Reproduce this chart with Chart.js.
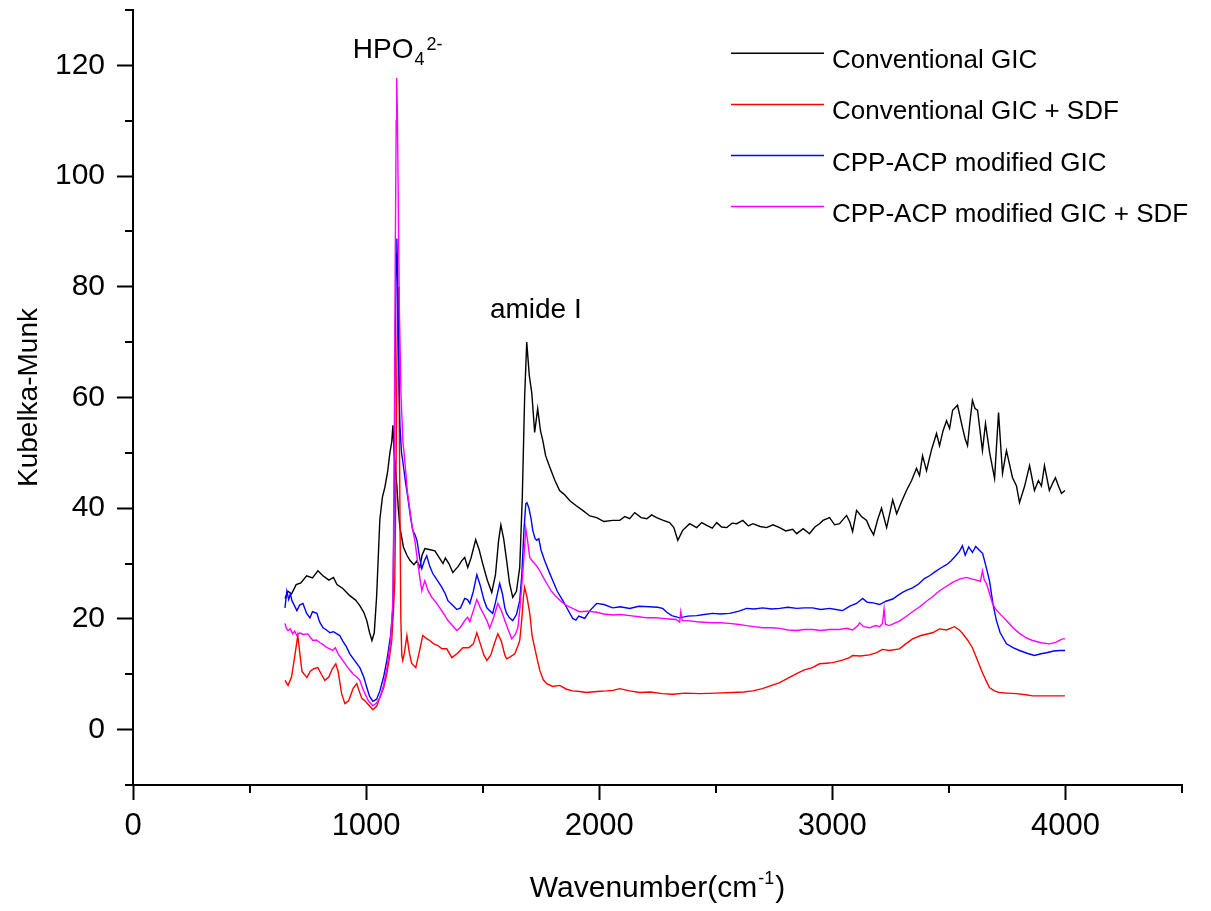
<!DOCTYPE html>
<html>
<head>
<meta charset="utf-8">
<script src="https://cdn.jsdelivr.net/npm/chart.js@4.4.1/dist/chart.umd.min.js"></script>
<style>
  html, body { margin: 0; padding: 0; background: #fff; }
  #wrap { width: 1211px; height: 911px; }
</style>
</head>
<body>
<div id="wrap"><canvas id="c" width="1211" height="911"></canvas></div>
<script>
// ---- data (wavenumber cm-1, Kubelka-Munk) ----
const seriesLabels = ['Conventional GIC', 'Conventional GIC + SDF', 'CPP-ACP modified GIC', 'CPP-ACP modified GIC + SDF'];
const seriesColors = ['#000000', '#ff0000', '#0000ff', '#ff00ff'];

const conventionalGIC = [[652,23.7],[665,25.0],[680,24.5],[700,26.2],[720,26.5],[745,27.8],[770,27.4],[793,28.7],[815,27.8],[840,27.0],[860,27.5],[875,26.2],[900,25.5],[930,24.2],[955,23.4],[973,22.4],[990,21.2],[1003,19.7],[1015,17.5],[1025,16.1],[1035,17.5],[1045,24],[1059,38],[1070,42],[1080,43.7],[1092,46.5],[1102,50],[1110,52],[1115,55],[1120,50],[1126,47],[1132,44],[1138,40],[1145,36.5],[1160,33],[1175,31.5],[1188,30.6],[1205,29.8],[1218,30.5],[1230,29.3],[1240,31.5],[1252,32.7],[1275,32.5],[1295,32.3],[1315,31],[1330,30],[1340,31],[1355,30],[1372,28.4],[1395,29.5],[1410,30.5],[1423,31.1],[1436,29.3],[1450,31],[1470,34.3],[1485,32.5],[1500,30],[1520,27],[1539,24.8],[1555,28],[1568,34],[1578,37],[1590,34.5],[1603,30.5],[1615,26.5],[1629,23.9],[1645,25],[1659,29.3],[1670,42],[1680,60],[1689,70],[1700,64],[1711,60.7],[1723,53.7],[1736,58],[1748,54],[1758,52.2],[1770,49.5],[1788,47.4],[1810,45],[1830,43.2],[1850,42.5],[1873,41.4],[1900,40.5],[1929,39.6],[1960,38.6],[1989,38.3],[2020,37.6],[2058,37.8],[2088,37.8],[2110,38.5],[2131,38.1],[2152,39.2],[2180,38.3],[2204,38.1],[2225,38.8],[2246,38.3],[2275,37.8],[2302,37.4],[2320,36.5],[2337,34.2],[2358,36],[2388,37.2],[2418,36.5],[2440,37.4],[2461,36.9],[2485,36.4],[2504,37.4],[2525,36.6],[2547,36.5],[2570,37.3],[2590,37.2],[2616,37.8],[2640,36.8],[2659,37.2],[2690,36.7],[2718,36.5],[2745,37.0],[2774,36.5],[2800,35.9],[2830,36.2],[2847,35.4],[2875,36.3],[2902,35.4],[2925,36.6],[2945,37.2],[2960,37.8],[2988,38.3],[3010,37.0],[3031,37.2],[3061,38.7],[3075,37.5],[3087,35.8],[3104,39.6],[3125,38.5],[3147,37.8],[3160,36.5],[3177,35.2],[3195,38.0],[3211,40.0],[3233,36.5],[3259,41.5],[3276,39.0],[3295,41.0],[3318,43.2],[3340,45.0],[3361,47.2],[3374,45.9],[3387,49.5],[3404,46.8],[3425,50.5],[3447,53.5],[3460,51.3],[3475,54.0],[3490,55.8],[3503,54.4],[3516,57.7],[3537,58.6],[3558,54.6],[3570,52.5],[3580,51.3],[3590,55.5],[3601,59.5],[3612,58.0],[3623,57.7],[3644,50.4],[3657,55.3],[3675,50.0],[3696,45.4],[3713,57.3],[3730,46.3],[3747,50.4],[3773,45.5],[3790,44.0],[3803,41.0],[3825,44.0],[3846,47.7],[3867,43.2],[3884,45.0],[3897,44.0],[3910,47.7],[3931,43.2],[3945,44.5],[3957,45.5],[3970,44.0],[3983,42.7],[3998,43.2]];

const conventionalGICSDF = [[652,8.9],[665,8.0],[680,9.5],[693,13],[707,17],[715,14],[725,10.5],[746,9.4],[760,10.5],[775,11.0],[793,11.2],[808,10],[823,8.9],[840,9.5],[855,11],[870,11.9],[880,10.5],[895,6.5],[909,4.7],[925,5.2],[945,7.5],[960,8.3],[970,7],[982,5.6],[995,5.2],[1010,4.5],[1029,3.6],[1045,4.2],[1059,5.8],[1075,7.5],[1089,10.1],[1100,13],[1110,16.1],[1118,22],[1123,27],[1128,45],[1133,70],[1137,80],[1141,65],[1145,40],[1149,20],[1153,13.5],[1157,12.5],[1165,14],[1175,17],[1185,14],[1195,12],[1213,11.2],[1228,14],[1243,17],[1258,16.5],[1273,16.1],[1290,15.5],[1308,15.2],[1325,14.6],[1346,14.6],[1368,13],[1390,13.7],[1415,14.8],[1440,14.8],[1460,15.5],[1475,17.5],[1490,15.5],[1505,13.5],[1518,12.5],[1535,13.5],[1550,15.5],[1565,17.3],[1580,16],[1595,13.5],[1603,12.8],[1620,13.2],[1638,13.7],[1650,15],[1659,16.1],[1668,20],[1675,24],[1680,25.7],[1690,24],[1702,21],[1712,17],[1723,14.8],[1735,12.5],[1745,10.7],[1760,9],[1775,8.3],[1800,7.8],[1830,8.0],[1860,7.3],[1886,7.0],[1916,6.9],[1946,6.7],[1990,6.9],[2032,7.0],[2060,7.1],[2088,7.4],[2130,7.0],[2174,6.7],[2220,6.8],[2270,6.5],[2315,6.4],[2370,6.6],[2431,6.5],[2500,6.6],[2572,6.7],[2620,6.8],[2659,7.0],[2700,7.4],[2740,8.0],[2774,8.5],[2810,9.3],[2847,10.1],[2880,10.8],[2915,11.2],[2945,11.9],[2975,12.0],[3001,12.1],[3040,12.5],[3074,13.0],[3087,13.4],[3120,13.3],[3160,13.5],[3190,13.9],[3215,14.5],[3245,14.3],[3288,14.6],[3315,15.5],[3344,16.4],[3380,17.0],[3430,17.5],[3460,18.2],[3490,18.0],[3524,18.6],[3545,18.0],[3558,17.4],[3580,16.2],[3601,14.8],[3620,12.8],[3640,10.7],[3660,8.8],[3674,7.6],[3695,7.0],[3717,6.7],[3750,6.6],[3790,6.5],[3830,6.3],[3859,6.1],[3900,6.1],[3950,6.1],[3998,6.1]];

const cppAcpGIC = [[652,22],[660,25],[668,23.5],[675,24.5],[682,23.3],[703,21.5],[715,22.5],[729,22.8],[745,21],[759,20.2],[770,21.3],[789,21],[800,19.5],[815,18.4],[830,18],[845,17.5],[860,17.7],[875,17.3],[887,17],[900,16],[915,15],[930,13.7],[950,12.5],[973,11.2],[990,9.5],[1003,7.6],[1015,6],[1029,5.1],[1045,5.5],[1059,7],[1075,9.5],[1089,12.5],[1105,17],[1115,22],[1120,40],[1125,70],[1130,86],[1132,88.7],[1136,80],[1140,65],[1145,55],[1152,50],[1158,48.3],[1168,45],[1179,41.9],[1190,38.5],[1200,36],[1210,35.2],[1218,34.2],[1230,31],[1239,29.1],[1250,30.5],[1260,31.4],[1273,29.5],[1286,28.2],[1305,27],[1325,25.7],[1340,24.5],[1351,23.3],[1370,22.5],[1389,21.7],[1405,22],[1423,23.7],[1435,23.5],[1445,22.8],[1460,25],[1475,28],[1490,26],[1505,23.5],[1518,22],[1530,21.5],[1543,21],[1555,23],[1573,26.4],[1585,24.5],[1595,22],[1603,21],[1615,20.2],[1629,19.7],[1645,20.8],[1659,23.3],[1668,28],[1677,36],[1685,40.8],[1690,41],[1698,40.1],[1708,38],[1715,36],[1725,34.5],[1732,34.2],[1741,34.5],[1750,32.5],[1766,30.5],[1785,28.5],[1801,26.9],[1820,25],[1844,23.3],[1865,21.7],[1886,20.1],[1900,19.8],[1912,20.5],[1925,20.3],[1938,20.1],[1960,21.5],[1989,22.8],[2020,22.6],[2058,22.0],[2090,22.2],[2131,21.9],[2170,22.3],[2216,22.2],[2250,22.1],[2272,21.9],[2290,21.2],[2311,20.6],[2345,20.2],[2380,20.5],[2418,20.6],[2450,20.8],[2487,21.0],[2520,20.9],[2559,21.0],[2600,21.4],[2632,21.9],[2665,21.8],[2701,22.0],[2740,21.8],[2774,21.9],[2810,22.1],[2847,21.9],[2880,22.0],[2915,22.0],[2950,21.7],[2988,21.9],[3015,21.7],[3044,21.5],[3075,22.3],[3104,22.8],[3130,23.7],[3150,23.0],[3175,22.9],[3203,22.6],[3230,23.2],[3259,23.6],[3280,24.2],[3301,24.8],[3320,25.2],[3344,25.6],[3370,26.3],[3395,27.3],[3417,27.8],[3440,28.5],[3465,29.2],[3490,29.8],[3510,30.5],[3533,31.6],[3545,32.2],[3558,33.2],[3570,31.5],[3585,33.0],[3601,32.0],[3615,33.1],[3631,32.4],[3645,31.8],[3653,30.5],[3665,28.5],[3674,26.9],[3690,22.5],[3704,19.7],[3720,17.5],[3747,15.5],[3775,14.8],[3803,14.3],[3835,13.8],[3867,13.4],[3895,13.7],[3919,13.9],[3950,14.2],[3975,14.3],[3998,14.3]];

const cppAcpGICSDF = [[652,19.2],[658,18.3],[665,17.9],[675,18.2],[685,17.3],[693,17.8],[703,17],[715,17.5],[730,17.2],[750,17.3],[760,16.7],[772,16.1],[787,16.2],[802,15.7],[817,15.3],[832,14.8],[845,14.6],[857,14.3],[868,14.8],[880,13.7],[900,12.5],[920,11.3],[943,10.1],[960,9.5],[973,8.9],[985,7.5],[995,6.5],[1010,5.2],[1029,4.3],[1045,4.8],[1059,5.8],[1075,8],[1089,11.2],[1105,16],[1115,23.3],[1120,45],[1125,85],[1129,110],[1131,117.7],[1134,112],[1138,95],[1143,75],[1150,60],[1158,52],[1166,48.6],[1177,43],[1188,39.6],[1198,36.5],[1209,34.2],[1222,30],[1232,27],[1239,25.1],[1245,26],[1252,26.9],[1265,25.2],[1282,23.9],[1300,23],[1316,22],[1335,20.8],[1351,19.7],[1370,18.8],[1389,17.9],[1405,18.5],[1423,19.7],[1435,20.3],[1445,19.5],[1460,21.5],[1475,23.5],[1490,22],[1505,20.8],[1518,19.7],[1530,18.3],[1545,20],[1565,22.8],[1580,21.5],[1595,19.7],[1610,18],[1625,16.4],[1640,17.2],[1651,18.4],[1660,22],[1672,28.2],[1680,33],[1685,36.3],[1693,34],[1702,31.1],[1712,30.5],[1723,30],[1733,29.5],[1745,28.7],[1760,27.5],[1775,26.4],[1795,25],[1818,23.9],[1840,23],[1861,22.4],[1890,21.8],[1916,21.3],[1950,21.4],[1989,21.2],[2020,20.9],[2058,20.7],[2090,20.8],[2131,20.6],[2170,20.4],[2204,20.2],[2240,20.2],[2272,20.1],[2300,20.0],[2330,19.9],[2345,19.4],[2350,21.3],[2356,19.7],[2380,19.7],[2418,19.5],[2450,19.4],[2487,19.3],[2520,19.3],[2559,19.2],[2600,19.0],[2632,18.8],[2665,18.6],[2701,18.4],[2740,18.4],[2774,18.3],[2810,18.0],[2847,17.9],[2880,18.1],[2915,18.1],[2950,17.9],[2988,18.1],[3030,18.1],[3061,18.3],[3087,18.0],[3110,18.8],[3117,19.3],[3135,18.6],[3160,18.4],[3185,18.8],[3203,18.6],[3215,19.2],[3222,21.8],[3228,19.0],[3245,18.8],[3265,19.2],[3288,19.6],[3315,20.4],[3344,21.3],[3375,22.2],[3404,23.2],[3430,24.0],[3460,25.1],[3490,25.9],[3516,26.6],[3545,27.2],[3576,27.5],[3600,27.2],[3618,27.0],[3635,26.8],[3644,28.7],[3652,27.0],[3661,26.4],[3675,24.5],[3687,22.8],[3700,21.8],[3717,21.0],[3747,19.7],[3775,18.4],[3803,17.4],[3830,16.6],[3859,16.1],[3895,15.7],[3931,15.5],[3960,15.8],[3987,16.4],[3998,16.4]];

const xMajorTicks = [0, 1000, 2000, 3000, 4000];
const xMinorTicks = [500, 1500, 2500, 3500, 4500];
const yMajorTicks = [0, 20, 40, 60, 80, 100, 120];
const yMinorTicks = [-10, 10, 30, 50, 70, 90, 110, 130];

// annotations: [text parts, anchor x (cm-1), anchor y (KM)]
const peakLabels = [
  { main: 'HPO', sub: '4', sup: '2-', x: 943, y: 121.3 },
  { main: 'amide I', sub: '', sup: '', x: 1531, y: 74.3 }
];

// ---- chart ----
const FONT = '"Liberation Sans", Arial, Helvetica, sans-serif';
const allSeries = [conventionalGIC, conventionalGICSDF, cppAcpGIC, cppAcpGICSDF];
const drawOrder = [3, 2, 1, 0];

const datasets = allSeries.map((s, i) => ({
  label: seriesLabels[i],
  data: s.map(p => ({ x: p[0], y: p[1] })),
  borderColor: seriesColors[i],
  backgroundColor: seriesColors[i],
  borderWidth: 1.4,
  pointRadius: 0,
  tension: 0,
  fill: false,
  order: drawOrder[i]
}));

const extrasPlugin = {
  id: 'extras',
  afterDraw(chart) {
    const ctx = chart.ctx;
    const xs = chart.scales.x, ys = chart.scales.y;
    const ca = chart.chartArea;
    ctx.save();
    // minor ticks
    ctx.strokeStyle = '#000';
    ctx.lineWidth = 2;
    yMinorTicks.forEach(v => {
      const py = Math.round(ys.getPixelForValue(v));
      ctx.beginPath(); ctx.moveTo(ca.left - 8, py); ctx.lineTo(ca.left, py); ctx.stroke();
    });
    xMinorTicks.forEach(v => {
      const px = Math.round(xs.getPixelForValue(v));
      ctx.beginPath(); ctx.moveTo(px, ca.bottom); ctx.lineTo(px, ca.bottom + 8); ctx.stroke();
    });

    // legend
    ctx.font = '26px ' + FONT;
    ctx.textAlign = 'left';
    ctx.textBaseline = 'alphabetic';
    chart.data.datasets.forEach((ds, i) => {
      const y = 53.3 + i * 51.1;
      ctx.strokeStyle = ds.borderColor;
      ctx.lineWidth = 1.5;
      ctx.beginPath(); ctx.moveTo(731, y); ctx.lineTo(824, y); ctx.stroke();
      ctx.fillStyle = '#000';
      ctx.fillText(ds.label, 832, y + 15);
    });

    // peak labels
    ctx.fillStyle = '#000';
    peakLabels.forEach(l => {
      let px = xs.getPixelForValue(l.x);
      const py = ys.getPixelForValue(l.y);
      ctx.font = '28px ' + FONT;
      ctx.fillText(l.main, px, py);
      px += ctx.measureText(l.main).width + 1;
      if (l.sub) {
        ctx.font = '18px ' + FONT;
        ctx.fillText(l.sub, px, py + 7);
        px += ctx.measureText(l.sub).width + 2;
      }
      if (l.sup) {
        ctx.font = '18px ' + FONT;
        ctx.fillText(l.sup, px, py - 8);
      }
    });

    // x axis title with superscript
    const t1 = 'Wavenumber(cm', t2 = '-1', t3 = ')';
    ctx.font = '30px ' + FONT; const w1 = ctx.measureText(t1).width; const w3 = ctx.measureText(t3).width;
    ctx.font = '18px ' + FONT; const w2 = ctx.measureText(t2).width;
    let tx = (ca.left + ca.right) / 2 - (w1 + w2 + w3 + 2) / 2;
    const ty = 897;
    ctx.font = '30px ' + FONT; ctx.fillText(t1, tx, ty); tx += w1 + 1;
    ctx.font = '18px ' + FONT; ctx.fillText(t2, tx, ty - 13); tx += w2 + 1;
    ctx.font = '30px ' + FONT; ctx.fillText(t3, tx, ty);
    ctx.restore();
  }
};

new Chart(document.getElementById('c'), {
  type: 'line',
  data: { datasets },
  plugins: [extrasPlugin],
  options: {
    responsive: false,
    animation: false,
    devicePixelRatio: 1,
    layout: { padding: { top: 10, right: 29, left: 0, bottom: 0 } },
    plugins: { legend: { display: false }, tooltip: { enabled: false }, title: { display: false } },
    scales: {
      x: {
        type: 'linear',
        min: 0, max: 4500,
        afterBuildTicks: s => { s.ticks = xMajorTicks.map(v => ({ value: v })); },
        afterFit: s => { s.height = 126; s.paddingLeft = 0; s.paddingRight = 0; },
        grid: { display: true, drawOnChartArea: false, drawTicks: true, tickLength: 15, tickColor: '#000', tickWidth: 2 },
        border: { display: true, color: '#000', width: 2 },
        ticks: { autoSkip: false, maxRotation: 0, padding: 8, color: '#000', font: { family: FONT, size: 31 }, callback: v => String(v) },
        title: { display: false }
      },
      y: {
        type: 'linear',
        min: -10, max: 130,
        afterBuildTicks: s => { s.ticks = yMajorTicks.map(v => ({ value: v })); },
        afterFit: s => { s.width = 133; s.paddingTop = 0; s.paddingBottom = 0; },
        grid: { display: true, drawOnChartArea: false, drawTicks: true, tickLength: 16, tickColor: '#000', tickWidth: 2 },
        border: { display: true, color: '#000', width: 2 },
        ticks: { padding: 12, color: '#000', font: { family: FONT, size: 30 }, callback: v => String(v) },
        title: { display: true, text: 'Kubelka-Munk', color: '#000', font: { family: FONT, size: 28 }, padding: { top: 12, bottom: 0 } }
      }
    }
  }
});
</script>
</body>
</html>
